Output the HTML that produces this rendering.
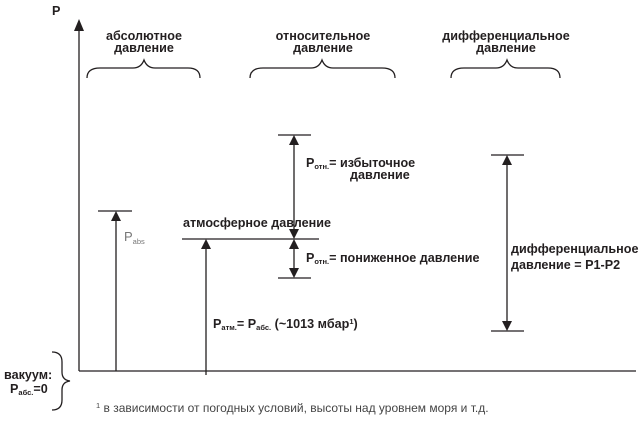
<!DOCTYPE html>
<html><head><meta charset="utf-8"><style>
html,body{margin:0;padding:0;background:#fff;}
svg{display:block;}
text{font-family:"Liberation Sans",Arial,sans-serif;font-weight:bold;font-size:12.6px;fill:#231f20;}
.n{font-weight:normal;}
.s{font-size:7.5px;}
</style></head><body>
<svg width="643" height="423" viewBox="0 0 643 423" xmlns="http://www.w3.org/2000/svg">
<g stroke="#231f20" stroke-width="1.3" fill="none">
<line x1="79" y1="28" x2="79" y2="371"/>
<line x1="79" y1="371" x2="636" y2="371"/>
<line x1="98" y1="211" x2="132" y2="211"/>
<line x1="116" y1="220" x2="116" y2="371"/>
<line x1="182" y1="239" x2="319" y2="239"/>
<line x1="206" y1="248" x2="206" y2="375"/>
<line x1="278" y1="135" x2="311" y2="135"/>
<line x1="294" y1="144" x2="294" y2="230"/>
<line x1="294" y1="248" x2="294" y2="270"/>
<line x1="278" y1="278" x2="311" y2="278"/>
<line x1="491" y1="155" x2="524" y2="155"/>
<line x1="507" y1="164" x2="507" y2="322"/>
<line x1="491" y1="331" x2="524" y2="331"/>
<path d="M87,78 Q87,68 100,68 L133,68 Q141,68 144,60 Q147,68 155,68 L188,68 Q200,68 200,78"/>
<path d="M250,78 Q250,68 263,68 L311,68 Q319,68 322,60 Q325,68 333,68 L382,68 Q395,68 395,78"/>
<path d="M451,78 Q451,68 464,68 L496,68 Q504,68 507,60 Q510,68 518,68 L548,68 Q560,68 560,78"/>
<path d="M52,352 Q62,352 62,362 L62,372 Q62,380 70,381 Q62,382 62,390 L62,400 Q62,410 52,410"/>
</g>
<g fill="#231f20">
<polygon points="79,19 74,31 84,31"/>
<polygon points="116,211 111,221 121,221"/>
<polygon points="206,239 201,249 211,249"/>
<polygon points="294,135 289,145 299,145"/>
<polygon points="294,239 289,229 299,229"/>
<polygon points="294,239 289,249 299,249"/>
<polygon points="294,278 289,268 299,268"/>
<polygon points="507,155 502,165 512,165"/>
<polygon points="507,331 502,321 512,321"/>
</g>
<text x="52" y="15">P</text>
<text x="144" y="40" text-anchor="middle">абсолютное</text>
<text x="144" y="52" text-anchor="middle">давление</text>
<text x="323" y="40" text-anchor="middle">относительное</text>
<text x="323" y="52" text-anchor="middle">давление</text>
<text x="506" y="40" text-anchor="middle">дифференциальное</text>
<text x="506" y="52" text-anchor="middle">давление</text>
<text x="306" y="167">P<tspan class="s" dy="2">отн.</tspan><tspan dy="-2">= избыточное</tspan></text>
<text x="350" y="179">давление</text>
<text x="183" y="227">атмосферное давление</text>
<text x="306" y="262">P<tspan class="s" dy="2">отн.</tspan><tspan dy="-2">= пониженное давление</tspan></text>
<text x="511" y="253">дифференциальное</text>
<text x="511" y="269">давление  = P1-P2</text>
<text x="213" y="328">P<tspan class="s" dy="2">атм.</tspan><tspan dy="-2">= P</tspan><tspan class="s" dy="2">абс.</tspan><tspan dy="-2"> (~1013 мбар</tspan><tspan class="s" dy="-4">1</tspan><tspan dy="4">)</tspan></text>
<text x="124" y="241" class="n" style="fill:#777;font-size:13px">P<tspan class="s" dy="3">abs</tspan></text>
<text x="4" y="379">вакуум:</text>
<text x="10" y="393">P<tspan class="s" dy="2">абс.</tspan><tspan dy="-2">=0</tspan></text>
<text x="96" y="412" class="n" style="font-size:12px;fill:#444"><tspan class="s" dy="-4">1</tspan><tspan dy="4"> в зависимости от погодных условий, высоты над уровнем моря и т.д.</tspan></text>
</svg>
</body></html>
